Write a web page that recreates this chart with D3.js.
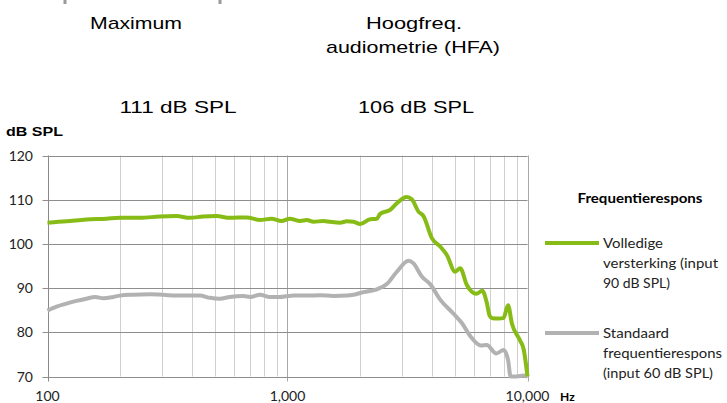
<!DOCTYPE html>
<html>
<head>
<meta charset="utf-8">
<script src="https://cdn.jsdelivr.net/npm/d3@7"></script>
<style>
  body { margin: 0; background: #fff; }
  svg { display: block; }
</style>
</head>
<body>
<svg id="chart" width="727" height="403"></svg>
<script>
// frequentierespons
var freqVol = [100, 120, 145, 176, 200, 243, 294, 345, 392, 445, 506, 575, 675, 767, 858, 944, 1022, 1129, 1204, 1283, 1413, 1506, 1657, 1767, 1884, 2008, 2211, 2356, 2433, 2678, 2855, 3142, 3296, 3513, 3687, 3994, 4327, 4612, 4996, 5243, 5588, 6124, 6480, 6760, 6960, 7140, 7600, 7937, 8300, 8610, 9300, 9650, 10000];
var dbVol = [104.8, 105.1, 105.5, 105.7, 105.9, 105.9, 106.2, 106.3, 105.9, 106.2, 106.3, 105.9, 106.0, 105.4, 105.7, 105.2, 105.7, 105.2, 105.4, 105.0, 105.2, 105.0, 104.8, 105.1, 105.0, 104.5, 105.6, 105.7, 106.8, 107.7, 109.2, 110.6, 110.1, 107.3, 106.3, 101.3, 99.4, 97.5, 93.7, 94.5, 90.7, 88.7, 89.4, 86.8, 83.7, 83.2, 83.1, 83.2, 86.1, 82.0, 78.2, 76.0, 70.0];

var freqStd = [100, 109, 120, 132, 145, 158, 171, 188, 200, 228, 267, 303, 345, 398, 431, 475, 522, 575, 654, 700, 767, 844, 929, 1000, 1059, 1204, 1368, 1555, 1767, 1884, 2074, 2356, 2594, 2855, 3193, 3350, 3628, 3930, 4327, 4917, 5326, 5800, 6390, 6760, 7410, 7950, 8300, 8500, 9028, 9624, 10000];
var dbStd = [84.9, 85.8, 86.5, 87.1, 87.6, 88.0, 87.7, 88.0, 88.3, 88.5, 88.6, 88.5, 88.3, 88.3, 88.3, 87.8, 87.6, 88.0, 88.2, 88.0, 88.5, 88.0, 88.0, 88.2, 88.3, 88.3, 88.4, 88.2, 88.3, 88.5, 89.1, 89.7, 90.9, 93.7, 96.2, 95.6, 92.6, 90.9, 87.4, 84.2, 82.1, 79.0, 77.0, 77.1, 75.2, 76.0, 73.7, 70.0, 70.0, 70.2, 70.0];

var yTicks = [70, 80, 90, 100, 110, 120];
var xMajor = [100, 1000, 10000];
var xMinor = [200, 300, 400, 500, 600, 700, 800, 900, 2000, 3000, 4000, 5000, 6000, 7000, 8000, 9000];

var svg = d3.select("#chart");

var x = d3.scaleLog().domain([100, 10000]).range([47.5, 527.5]);
var y = d3.scaleLinear().domain([70, 120]).range([376.5, 155.5]);

// top text block
var topText = [
  { t: "Maximum", cx: 136, by: 29, w: 92 },
  { t: "Hoogfreq.", cx: 414, by: 29, w: 96 },
  { t: "audiometrie (HFA)", cx: 413, by: 53, w: 174 },
  { t: "111  dB SPL", cx: 178, by: 113, w: 117 },
  { t: "106  dB SPL", cx: 416, by: 113, w: 116 }
];
svg.selectAll("text.top").data(topText).enter().append("text")
  .attr("class", "top")
  .attr("x", function (d) { return d.cx; })
  .attr("y", function (d) { return d.by; })
  .attr("text-anchor", "middle")
  .attr("textLength", function (d) { return d.w; })
  .attr("lengthAdjust", "spacingAndGlyphs")
  .style("font-family", "'Liberation Sans', Arial, sans-serif")
  .style("font-size", "17px")
  .style("fill", "#000")
  .text(function (d) { return d.t; });

// bits of a bracket cut off at the top
svg.selectAll("rect.cut").data([65, 220]).enter().append("rect")
  .attr("x", function (d) { return d - 1.5; })
  .attr("y", 0).attr("width", 3).attr("height", 4)
  .attr("fill", "#9a9a9a");

// grid
svg.selectAll("line.minor").data(xMinor).enter().append("line")
  .attr("x1", function (d) { return Math.round(x(d)) + 0.5; })
  .attr("x2", function (d) { return Math.round(x(d)) + 0.5; })
  .attr("y1", y(120)).attr("y2", y(70))
  .attr("stroke", "#d0d0d0").attr("stroke-width", 1);

svg.selectAll("line.major").data(xMajor).enter().append("line")
  .attr("x1", function (d) { return Math.round(x(d)) + 0.5; })
  .attr("x2", function (d) { return Math.round(x(d)) + 0.5; })
  .attr("y1", y(120)).attr("y2", y(70) + 5)
  .attr("stroke", function (d) { return d === 100 ? "#8a8a8a" : "#a8a8a8"; })
  .attr("stroke-width", 1);

svg.selectAll("line.hgrid").data(yTicks).enter().append("line")
  .attr("x1", x(100) - 5).attr("x2", x(10000))
  .attr("y1", function (d) { return Math.round(y(d)) + 0.5; })
  .attr("y2", function (d) { return Math.round(y(d)) + 0.5; })
  .attr("stroke", "#8e8e8e").attr("stroke-width", 1);

// axis labels
var tickFont = "Lato, 'Open Sans', sans-serif";
svg.selectAll("text.ylab").data(yTicks).enter().append("text")
  .attr("x", 33).attr("y", function (d) { return y(d) + 5; })
  .attr("text-anchor", "end")
  .style("font-family", tickFont).style("font-size", "14px").style("fill", "#222")
  .text(function (d) { return d; });

svg.selectAll("text.xlab").data(xMajor).enter().append("text")
  .attr("x", function (d) { return x(d); }).attr("y", 401)
  .attr("text-anchor", "middle")
  .style("font-family", tickFont).style("font-size", "14px").style("fill", "#222")
  .text(function (d) { return d3.format(",")(d); });

svg.append("text").attr("x", 560).attr("y", 401)
  .style("font-family", tickFont).style("font-size", "12px").style("font-weight", "bold")
  .text("Hz");
svg.append("text").attr("x", 6).attr("y", 136)
  .attr("textLength", 57).attr("lengthAdjust", "spacingAndGlyphs")
  .style("font-family", "'Liberation Sans', Arial, sans-serif").style("font-size", "13px").style("font-weight", "bold")
  .text("dB SPL");

// curves
var line = d3.line()
  .x(function (d) { return x(d[0]); })
  .y(function (d) { return y(d[1]); })
  .curve(d3.curveMonotoneX);

svg.append("path")
  .datum(d3.zip(freqStd, dbStd))
  .attr("d", line)
  .attr("fill", "none").attr("stroke", "#b2b2b2").attr("stroke-width", 4)
  .attr("stroke-linejoin", "round");

svg.append("path")
  .datum(d3.zip(freqVol, dbVol))
  .attr("d", line)
  .attr("fill", "none").attr("stroke", "#86bc15").attr("stroke-width", 4)
  .attr("stroke-linejoin", "round");

// legend
svg.append("text").attr("x", 640).attr("y", 203)
  .attr("text-anchor", "middle")
  .attr("textLength", 125).attr("lengthAdjust", "spacingAndGlyphs")
  .style("font-family", tickFont).style("font-size", "13px").style("font-weight", "bold")
  .text("Frequentierespons");

var legend = [
  { color: "#86bc15", ly: 243, lines: [["Volledige", 60], ["versterking (input", 115], ["90 dB SPL)", 67]] },
  { color: "#b2b2b2", ly: 333, lines: [["Standaard", 66], ["frequentierespons", 119], ["(input 60 dB SPL)", 110]] }
];
legend.forEach(function (l) {
  svg.append("line").attr("x1", 545).attr("x2", 599)
    .attr("y1", l.ly).attr("y2", l.ly)
    .attr("stroke", l.color).attr("stroke-width", 4);
  l.lines.forEach(function (t, i) {
    svg.append("text").attr("x", 603).attr("y", l.ly + 5 + i * 20)
      .attr("textLength", t[1]).attr("lengthAdjust", "spacingAndGlyphs")
      .style("font-family", tickFont).style("font-size", "14px").style("fill", "#222")
      .text(t[0]);
  });
});
</script>
</body>
</html>
